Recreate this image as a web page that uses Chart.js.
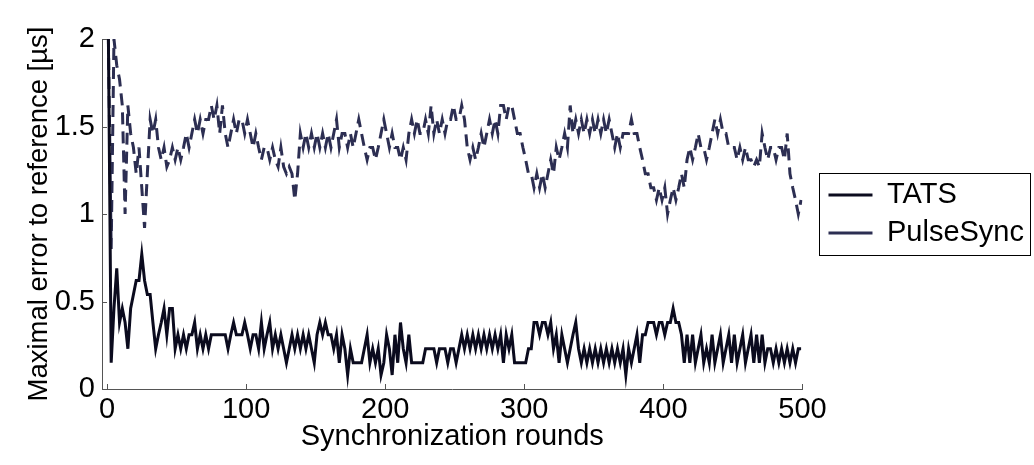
<!DOCTYPE html>
<html>
<head>
<meta charset="utf-8">
<script src="https://cdn.jsdelivr.net/npm/chart.js@4.4.0/dist/chart.umd.min.js"></script>
<style>
  html, body { margin: 0; padding: 0; background: #fff; }
  #wrap { position: relative; width: 1034px; height: 465px; }
</style>
</head>
<body>
<div id="wrap"><canvas id="myChart"></canvas></div>
<script>
// values read every second round (1, 3, 5, ... 499)
const tats = [
  2.0, 0.15, 0.46, 0.69, 0.38,   0.46, 0.38, 0.23, 0.46, 0.54,
  0.62, 0.62, 0.77, 0.62, 0.54,  0.54, 0.38, 0.23, 0.31, 0.38,
  0.46, 0.31, 0.46, 0.46, 0.23,  0.31, 0.23, 0.31, 0.23, 0.31,
  0.31, 0.38, 0.23, 0.31, 0.23,  0.31, 0.23, 0.31, 0.31, 0.31,
  0.31, 0.31, 0.31, 0.23, 0.31,  0.38, 0.31, 0.31, 0.31, 0.38,
  0.31, 0.23, 0.31, 0.31, 0.23,  0.38, 0.23, 0.31, 0.38, 0.23,
  0.31, 0.23, 0.31, 0.23, 0.15,  0.23, 0.31, 0.23, 0.31, 0.23,
  0.31, 0.23, 0.31, 0.23, 0.15,  0.31, 0.38, 0.31, 0.38, 0.31,
  0.31, 0.23, 0.31, 0.15, 0.31,  0.23, 0.08, 0.23, 0.15, 0.15,
  0.15, 0.15, 0.23, 0.31, 0.15,  0.23, 0.15, 0.23, 0.08, 0.15,
  0.31, 0.23, 0.08, 0.31, 0.15,  0.38, 0.23, 0.15, 0.31, 0.15,
  0.15, 0.15, 0.15, 0.15, 0.23,  0.23, 0.23, 0.23, 0.15, 0.23,
  0.23, 0.23, 0.15, 0.23, 0.23,  0.15, 0.23, 0.31, 0.23, 0.31,
  0.23, 0.31, 0.23, 0.31, 0.23,  0.31, 0.23, 0.31, 0.23, 0.31,
  0.23, 0.31, 0.15, 0.31, 0.23,  0.31, 0.15, 0.15, 0.15, 0.15,
  0.15, 0.23, 0.23, 0.38, 0.38,  0.31, 0.38, 0.38, 0.31, 0.38,
  0.23, 0.31, 0.15, 0.31, 0.23,  0.15, 0.23, 0.31, 0.38, 0.23,
  0.15, 0.23, 0.15, 0.23, 0.15,  0.23, 0.15, 0.23, 0.15, 0.23,
  0.15, 0.23, 0.15, 0.23, 0.15,  0.23, 0.08, 0.23, 0.15, 0.23,
  0.31, 0.15, 0.31, 0.31, 0.38,  0.38, 0.38, 0.31, 0.38, 0.38,
  0.31, 0.38, 0.38, 0.46, 0.38,  0.38, 0.31, 0.15, 0.31, 0.15,
  0.31, 0.15, 0.23, 0.31, 0.15,  0.23, 0.15, 0.31, 0.15, 0.23,
  0.31, 0.15, 0.23, 0.31, 0.15,  0.31, 0.15, 0.23, 0.31, 0.15,
  0.23, 0.31, 0.15, 0.31, 0.15,  0.31, 0.15, 0.23, 0.23, 0.15,
  0.23, 0.15, 0.23, 0.15, 0.23,  0.15, 0.23, 0.15, 0.23, 0.23
];
const pulseSync = [
  2.0, 0.8, 2.0, 1.85, 1.77,     1.62, 1.0, 1.62, 1.46, 1.38,
  1.23, 1.38, 1.15, 0.92, 1.23,  1.54, 1.46, 1.54, 1.38, 1.31,
  1.38, 1.27, 1.31, 1.38, 1.31,  1.38, 1.31, 1.38, 1.46, 1.38,
  1.46, 1.54, 1.46, 1.54, 1.46,  1.54, 1.54, 1.62, 1.54, 1.62,
  1.46, 1.62, 1.46, 1.38, 1.46,  1.54, 1.46, 1.54, 1.54, 1.46,
  1.54, 1.46, 1.38, 1.46, 1.38,  1.31, 1.38, 1.38, 1.31, 1.38,
  1.31, 1.27, 1.38, 1.27, 1.23,  1.27, 1.23, 1.08, 1.23, 1.46,
  1.38, 1.46, 1.38, 1.46, 1.38,  1.46, 1.38, 1.46, 1.38, 1.46,
  1.38, 1.46, 1.54, 1.38, 1.46,  1.46, 1.38, 1.46, 1.38, 1.46,
  1.54, 1.46, 1.38, 1.31, 1.38,  1.38, 1.31, 1.38, 1.46, 1.54,
  1.46, 1.38, 1.46, 1.38, 1.38,  1.31, 1.38, 1.31, 1.46, 1.54,
  1.46, 1.54, 1.46, 1.46, 1.54,  1.46, 1.62, 1.46, 1.54, 1.46,
  1.54, 1.46, 1.54, 1.54, 1.62,  1.54, 1.54, 1.62, 1.54, 1.38,
  1.31, 1.38, 1.31, 1.38, 1.46,  1.38, 1.46, 1.54, 1.46, 1.54,
  1.46, 1.62, 1.62, 1.54, 1.62,  1.62, 1.54, 1.46, 1.46, 1.38,
  1.31, 1.23, 1.23, 1.15, 1.23,  1.15, 1.23, 1.15, 1.23, 1.31,
  1.23, 1.38, 1.31, 1.38, 1.46,  1.38, 1.62, 1.46, 1.54, 1.46,
  1.54, 1.46, 1.54, 1.46, 1.54,  1.46, 1.54, 1.46, 1.54, 1.46,
  1.54, 1.46, 1.38, 1.46, 1.38,  1.46, 1.46, 1.46, 1.54, 1.46,
  1.46, 1.38, 1.31, 1.23, 1.23,  1.15, 1.15, 1.08, 1.15, 1.08,
  1.15, 1.0, 1.08, 1.15, 1.08,   1.15, 1.23, 1.15, 1.31, 1.38,
  1.31, 1.38, 1.46, 1.38, 1.38,  1.31, 1.38, 1.46, 1.54, 1.46,
  1.54, 1.46, 1.46, 1.38, 1.38,  1.38, 1.31, 1.38, 1.31, 1.38,
  1.31, 1.31, 1.27, 1.31, 1.27,  1.46, 1.38, 1.31, 1.38, 1.38,
  1.31, 1.38, 1.38, 1.31, 1.46,  1.23, 1.15, 1.08, 1.0, 1.08
];
const rounds = tats.map((v, i) => 2 * i + 1);
const xTicks = [0, 100, 200, 300, 400, 500];
const yTicks = [0, 0.5, 1, 1.5, 2];
const yTickLabels = ['0', '0.5', '1', '1.5', '2'];

const axisColor = '#555';
const font = { family: 'Liberation Sans, Arial, sans-serif', size: 29 };
const yTitleFont = { family: 'Liberation Sans, Arial, sans-serif', size: 27.5 };

// MATLAB style: ticks pointing into the plot, boxed legend
const matlabBits = {
  id: 'matlabBits',
  afterDraw(chart) {
    const { ctx, chartArea, scales, legend } = chart;
    ctx.save();
    ctx.strokeStyle = axisColor;
    ctx.lineWidth = 1;
    ctx.beginPath();
    xTicks.forEach(v => {
      const px = Math.round(scales.x.getPixelForValue(v)) + 0.5;
      ctx.moveTo(px, chartArea.bottom);
      ctx.lineTo(px, chartArea.bottom - 5);
    });
    yTicks.forEach(v => {
      const py = Math.round(scales.y.getPixelForValue(v)) + 0.5;
      ctx.moveTo(chartArea.left, py);
      ctx.lineTo(chartArea.left + 5, py);
    });
    ctx.stroke();
    const hb = legend.legendHitBoxes;
    const top = hb[0].top - 8;
    const bottom = hb[hb.length - 1].top + hb[hb.length - 1].height + 7;
    ctx.strokeStyle = '#000';
    ctx.strokeRect(Math.round(legend.left) + 0.5, Math.round(top) + 0.5, 211, Math.round(bottom - top));
    ctx.restore();
  }
};

const ctx = document.getElementById('myChart').getContext('2d');
const myChart = new Chart(ctx, {
  type: 'line',
  data: {
    datasets: [{
      label: 'TATS',
      data: tats.map((v, i) => ({ x: rounds[i], y: v })),
      borderColor: '#0b0b1e',
      backgroundColor: '#0b0b1e',
      borderWidth: 3
    }, {
      label: 'PulseSync',
      data: pulseSync.map((v, i) => ({ x: rounds[i], y: v })),
      borderColor: '#2c2e52',
      backgroundColor: '#2c2e52',
      borderWidth: 3,
      borderDash: [12, 7]
    }]
  },
  options: {
    responsive: true,
    maintainAspectRatio: false,
    animation: false,
    elements: { point: { radius: 0 }, line: { tension: 0 } },
    layout: { padding: { left: 19, top: 39, bottom: 7, right: 0 } },
    plugins: {
      tooltip: { enabled: false },
      legend: {
        position: 'right',
        fullSize: false,
        maxWidth: 230,
        labels: {
          usePointStyle: true,
          pointStyle: 'line',
          pointStyleWidth: 44,
          padding: 9,
          color: '#000',
          font: font
        }
      }
    },
    scales: {
      x: {
        type: 'linear',
        min: -3.6,
        max: 500,
        afterFit: s => { s.height = 69; },
        afterBuildTicks: s => { s.ticks = xTicks.map(v => ({ value: v })); },
        grid: { display: false, drawTicks: false },
        border: { display: true, color: axisColor, width: 1 },
        ticks: { color: '#000', font: font, padding: 4, maxRotation: 0 },
        title: { display: true, text: 'Synchronization rounds', color: '#000', font: font, padding: { top: 0, bottom: 4 } }
      },
      y: {
        min: 0,
        max: 2,
        afterFit: s => { s.width = 83; },
        afterBuildTicks: s => { s.ticks = yTicks.map(v => ({ value: v })); },
        grid: { display: false, drawTicks: false },
        border: { display: true, color: axisColor, width: 1 },
        ticks: { color: '#000', font: font, padding: 7, callback: (v, i) => yTickLabels[i] },
        title: { display: true, text: 'Maximal error to reference [µs]', color: '#000', font: yTitleFont, padding: { top: 4, bottom: 0 } }
      },
      gap: {
        position: 'right',
        afterFit: s => { s.width = 17; },
        grid: { display: false, drawTicks: false },
        border: { display: false },
        ticks: { display: false }
      }
    }
  },
  plugins: [matlabBits]
});
</script>
</body>
</html>
